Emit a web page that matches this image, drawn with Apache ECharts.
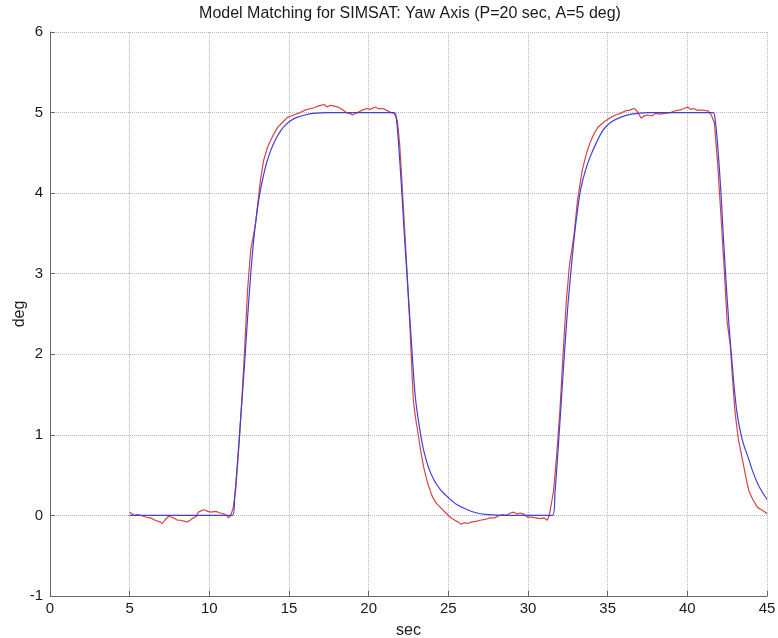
<!DOCTYPE html>
<html>
<head>
<meta charset="utf-8">
<script src="https://cdn.jsdelivr.net/npm/echarts@6/dist/echarts.min.js"></script>
<style>
html,body{margin:0;padding:0;background:#fff;}
#chart{width:778px;height:638px;}
</style>
</head>
<body>
<div id="chart"></div>
<script>
const titleText = "Model Matching for SIMSAT: Yaw Axis (P=20 sec, A=5 deg)";
const xLabel = "sec";
const yLabel = "deg";

// Model response (blue)
const modelT = [5,11.45,11.6,11.8,12.0,12.2,12.4,12.6,12.8,13.0,13.2,13.4,13.6,13.8,14.0,14.25,14.5,14.8,15.1,15.5,16.0,16.5,17.5,21.6,21.75,21.9,22.1,22.25,22.4,22.6,22.8,22.95,23.2,23.45,23.75,24.1,24.5,24.95,25.5,26.2,26.8,27.5,28.5,31.55,31.7,31.9,32.1,32.3,32.5,32.7,32.9,33.1,33.3,33.6,33.9,34.3,34.7,35.2,35.8,36.5,37.5,41.6,41.75,41.9,42.1,42.25,42.4,42.6,42.9,43.1,43.35,43.55,43.8,44.1,44.4,44.7,45];
const modelDeg = [0,0,0.25,0.75,1.3,1.85,2.45,3.0,3.45,3.78,4.03,4.22,4.38,4.5,4.6,4.7,4.78,4.85,4.9,4.94,4.97,4.99,5.0,5.0,4.9,4.55,3.95,3.45,3.0,2.4,1.8,1.43,1.08,0.81,0.6,0.44,0.32,0.23,0.14,0.07,0.03,0.01,0,0,0.3,0.85,1.45,2.05,2.6,3.04,3.45,3.78,4.04,4.28,4.45,4.63,4.78,4.88,4.94,4.98,5.0,5.0,4.9,4.6,4.04,3.5,3.0,2.4,1.68,1.3,1.02,0.87,0.73,0.55,0.4,0.29,0.2];

// Measured response (red)
const measT = [5.0,5.15,5.3,5.5,5.7,6.0,6.3,6.6,6.9,7.05,7.2,7.45,7.6,7.75,8.0,8.2,8.4,8.6,8.8,9.0,9.2,9.3,9.5,9.65,9.9,10.1,10.4,10.7,10.9,11.1,11.2,11.35,11.5,11.65,11.8,12.0,12.2,12.4,12.6,12.9,13.2,13.4,13.65,14.0,14.3,14.6,14.9,15.3,15.7,16.0,16.35,16.6,16.8,17.0,17.2,17.4,17.6,17.85,18.05,18.25,18.4,18.6,18.8,19.0,19.15,19.3,19.6,19.9,20.1,20.4,20.6,20.9,21.1,21.4,21.6,21.8,21.95,22.1,22.2,22.4,22.6,22.8,22.95,23.1,23.25,23.45,23.7,24.0,24.25,24.5,24.8,25.1,25.4,25.6,25.8,26.0,26.2,26.5,26.8,27.0,27.3,27.6,27.9,28.1,28.4,28.6,28.9,29.1,29.3,29.5,29.7,29.95,30.2,30.5,30.8,31.0,31.2,31.3,31.4,31.6,31.8,32.0,32.2,32.4,32.6,32.9,33.1,33.4,33.65,33.9,34.15,34.4,34.8,35.2,35.5,35.8,36.1,36.4,36.6,36.75,36.9,37.1,37.3,37.5,37.8,38.0,38.3,38.6,38.95,39.2,39.5,39.8,40.0,40.2,40.4,40.6,40.9,41.3,41.5,41.7,41.9,42.1,42.3,42.5,42.7,42.85,43.0,43.2,43.5,43.7,43.85,44.1,44.4,44.65,44.9,45.0];
const measDeg = [0.04,0.02,0.0,0.01,0.0,-0.02,-0.03,-0.06,-0.08,-0.1,-0.06,-0.01,-0.02,-0.03,-0.06,-0.06,-0.07,-0.08,-0.06,-0.03,-0.01,0.04,0.06,0.07,0.05,0.04,0.05,0.03,0.02,0.0,-0.03,0.0,0.1,0.31,0.7,1.3,2.0,2.8,3.3,3.62,4.15,4.4,4.57,4.72,4.82,4.88,4.94,4.97,5.0,5.03,5.05,5.06,5.08,5.09,5.1,5.07,5.09,5.08,5.07,5.05,5.03,5.0,4.99,4.97,4.99,5.0,5.03,5.05,5.04,5.07,5.05,5.05,5.03,5.0,4.99,4.9,4.6,4.1,3.75,3.05,2.3,1.43,1.2,1.02,0.82,0.6,0.4,0.23,0.15,0.1,0.04,-0.02,-0.06,-0.08,-0.11,-0.09,-0.1,-0.08,-0.07,-0.06,-0.05,-0.03,-0.03,-0.01,0.01,0.0,0.03,0.04,0.02,0.03,0.02,-0.02,-0.02,-0.03,-0.04,-0.03,-0.06,-0.02,0.07,0.3,0.75,1.3,2.0,2.65,3.1,3.5,3.9,4.28,4.48,4.63,4.74,4.82,4.89,4.94,4.97,4.99,5.02,5.03,5.05,5.04,5.0,4.93,4.96,4.97,4.96,4.99,4.98,4.99,5.0,5.02,5.03,5.05,5.07,5.04,5.05,5.03,5.03,5.02,4.97,4.87,4.37,3.75,3.1,2.4,2.1,1.65,1.27,0.95,0.65,0.45,0.31,0.2,0.1,0.07,0.04,0.02];

const xMin = 0, xMax = 45, xStep = 5;
const yMin = -1, yMax = 6, yStep = 1;

const zip = (a, b) => a.map((v, i) => [v, b[i]]);

const chart = echarts.init(document.getElementById('chart'), null, {renderer: 'canvas'});
const font = 'Liberation Sans, Arial, Helvetica, sans-serif';
chart.setOption({
  animation: false,
  backgroundColor: '#ffffff',
  grid: {left: 50, right: 11, top: 32, bottom: 42, containLabel: false, outerBoundsMode: 'none'},
  graphic: [
    {type: 'text', x: 410, y: 14, style: {text: titleText, font: '16px ' + font, fill: '#1a1a1a', textAlign: 'center', textVerticalAlign: 'middle'}}
  ],
  xAxis: {
    type: 'value', min: xMin, max: xMax, interval: xStep,
    name: xLabel, nameLocation: 'middle', nameGap: 27, nameMoveOverlap: false,
    nameTextStyle: {fontFamily: font, fontSize: 16, color: '#1a1a1a'},
    axisLine: {show: true, onZero: false, lineStyle: {color: '#666', width: 1}},
    axisTick: {show: true, inside: true, length: 5, lineStyle: {color: '#666'}},
    axisLabel: {fontFamily: font, fontSize: 15, color: '#1a1a1a', margin: 5},
    splitLine: {show: true, lineStyle: {type: 'dotted', color: '#b8b8b8', width: 1}}
  },
  yAxis: {
    type: 'value', min: yMin, max: yMax, interval: yStep,
    name: yLabel, nameLocation: 'middle', nameGap: 22, nameRotate: 90, nameMoveOverlap: false,
    nameTextStyle: {fontFamily: font, fontSize: 16, color: '#1a1a1a'},
    axisLine: {show: true, onZero: false, lineStyle: {color: '#666', width: 1}},
    axisTick: {show: true, inside: true, length: 5, lineStyle: {color: '#666'}},
    axisLabel: {fontFamily: font, fontSize: 15, color: '#1a1a1a', margin: 7},
    splitLine: {show: true, lineStyle: {type: 'dotted', color: '#b8b8b8', width: 1}}
  },
  series: [
    {type: 'line', data: zip(measT, measDeg), showSymbol: false, smooth: false,
     lineStyle: {color: '#d44545', width: 1.2}, itemStyle: {color: '#d44545'}},
    {type: 'line', data: zip(modelT, modelDeg), showSymbol: false, smooth: 0.3,
     lineStyle: {color: '#4040d4', width: 1.2}, itemStyle: {color: '#4040d4'}}
  ]
});
</script>
</body>
</html>
